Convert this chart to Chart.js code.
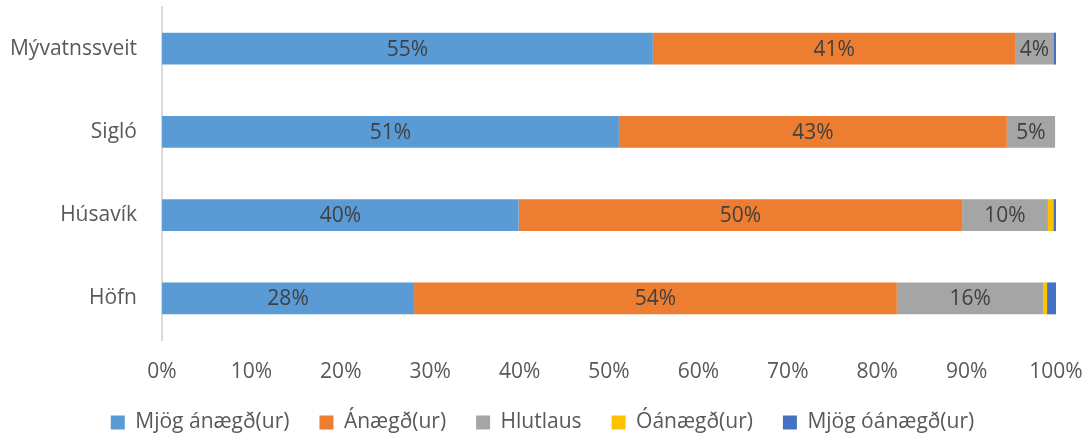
<!DOCTYPE html>
<html>
<head>
<meta charset="utf-8">
<script src="https://cdn.jsdelivr.net/npm/chart.js@4/dist/chart.umd.min.js"></script>
<style>
  html, body { margin: 0; padding: 0; background: #fff; }
</style>
</head>
<body>
<canvas id="satChart" width="1085" height="434"></canvas>
<script>
/* Data (percent of respondents) */
const places = ['Mývatnssveit', 'Sigló', 'Húsavík', 'Höfn'];
const veryHappy = [54.9, 51.1, 39.9, 28.2];
const happy = [40.6, 43.4, 49.6, 54.0];
const neutral = [4.2, 5.4, 9.6, 16.4];
const unhappy = [0, 0, 0.6, 0.4];
const veryUnhappy = [0.3, 0, 0.3, 1.0];
const xTicks = [0, 10, 20, 30, 40, 50, 60, 70, 80, 90, 100];

const FONT = '"Open Sans", "Noto Sans", sans-serif';
const FS = 21;

/* draws the % text in the middle of each segment that is wide enough */
const segLabels = {
  id: 'segLabels',
  afterDatasetsDraw(chart) {
    const c = chart.ctx;
    c.save();
    c.font = FS + 'px ' + FONT;
    c.fillStyle = '#404040';
    c.textAlign = 'center';
    c.textBaseline = 'middle';
    chart.data.datasets.forEach((ds, i) => {
      const meta = chart.getDatasetMeta(i);
      meta.data.forEach((bar, j) => {
        const v = ds.data[j];
        if (v < 3) return;
        const p = bar.getProps(['x', 'base', 'y'], true);
        c.fillText(Math.round(v) + '%', (p.x + p.base) / 2, p.y + 1);
      });
    });
    c.restore();
  }
};

new Chart(document.getElementById('satChart'), {
  type: 'bar',
  data: {
    labels: places,
    datasets: [
      { label: 'Mjög ánægð(ur)', data: veryHappy, backgroundColor: '#5B9BD5' },
      { label: 'Ánægð(ur)', data: happy, backgroundColor: '#ED7D31' },
      { label: 'Hlutlaus', data: neutral, backgroundColor: '#A5A5A5' },
      { label: 'Óánægð(ur)', data: unhappy, backgroundColor: '#FFC000' },
      { label: 'Mjög óánægð(ur)', data: veryUnhappy, backgroundColor: '#4472C4' }
    ]
  },
  options: {
    indexAxis: 'y',
    responsive: false,
    animation: false,
    categoryPercentage: 1,
    barPercentage: 0.383,
    layout: { padding: { top: 7, right: 0, left: 0, bottom: -9 } },
    plugins: {
      legend: {
        position: 'bottom',
        labels: {
          boxWidth: 14, boxHeight: 14, padding: 30,
          color: '#595959',
          font: { family: FONT, size: FS }
        }
      },
      tooltip: { enabled: false }
    },
    scales: {
      x: {
        stacked: true, min: 0, max: 100,
        afterBuildTicks: s => { s.ticks = xTicks.map(v => ({ value: v })); },
        afterFit: s => { s.paddingLeft = 0; s.paddingRight = 29; s.height = 42; },
        grid: { display: false },
        border: { display: false },
        ticks: {
          color: '#595959', padding: 11, maxRotation: 0,
          font: { family: FONT, size: FS },
          callback: v => v + '%'
        }
      },
      y: {
        stacked: true,
        afterFit: s => { s.width = 162; s.paddingTop = 0; s.paddingBottom = 0; },
        grid: { display: false },
        border: { display: true, color: '#d9d9d9', width: 2 },
        ticks: {
          color: '#595959', padding: 17,
          font: { family: FONT, size: FS }
        }
      }
    }
  },
  plugins: [segLabels]
});
</script>
</body>
</html>
